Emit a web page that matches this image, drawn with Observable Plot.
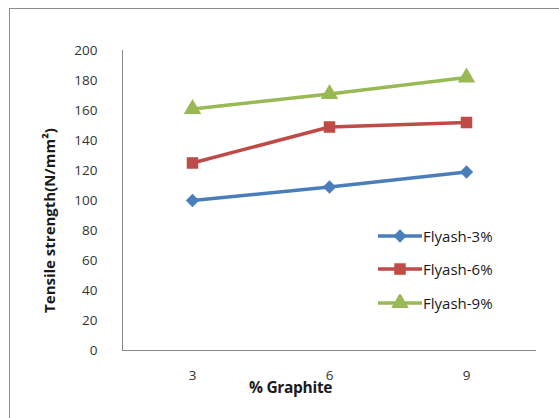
<!DOCTYPE html>
<html>
<head>
<meta charset="utf-8">
<script src="https://cdn.jsdelivr.net/npm/d3@7"></script>
<script src="https://cdn.jsdelivr.net/npm/@observablehq/plot@0.6"></script>
<style>
  html, body { margin: 0; padding: 0; background: #fff; }
  #wrap { position: relative; width: 559px; height: 418px; overflow: hidden; font-family: "Open Sans", Lato, sans-serif; }
  #border { position: absolute; left: 9px; top: 8px; right: -4px; bottom: -4px;
            border-left: 1px solid #8c8c8c; border-top: 1px solid #8c8c8c; }
  #chart { position: absolute; left: 0; top: 0; }
  #legend { position: absolute; left: 378px; top: 219px; }
  .row { display: flex; align-items: center; height: 33.5px; font-size: 15px; color: #1a1a1a; }
  .row svg { margin-right: 1px; }
  #xtitle { position: absolute; left: 249px; top: 376px; font-size: 15.5px; font-weight: bold; color: #1a1a1a; letter-spacing: -0.3px; }
</style>
</head>
<body>
<div id="wrap">
  <div id="border"></div>
  <div id="chart"></div>
  <div id="legend"></div>
  <div id="xtitle"></div>
</div>
<script>
// % graphite on the x axis
const graphite = [3, 6, 9];
// one series per flyash content
const seriesNames = ["Flyash-3%", "Flyash-6%", "Flyash-9%"];
const flyash3 = [100, 109, 119];
const flyash6 = [125, 149, 152];
const flyash9 = [161, 171, 182];
const yTicks = [0, 20, 40, 60, 80, 100, 120, 140, 160, 180, 200];
const xTitle = "% Graphite";
const yTitle = "Tensile strength(N/mm²)";

const colors = ["#4a7ebb", "#be4b48", "#98b954"];
const symbols = ["diamond2", "square", "triangle"];
const radii = [6, 6.5, 6.5];

const values = [flyash3, flyash6, flyash9];
const rows = seriesNames.flatMap((s, i) =>
  graphite.map((g, j) => ({series: s, graphite: g, strength: values[i][j]}))
);

const chart = Plot.plot({
  width: 559,
  height: 418,
  marginLeft: 122,
  marginRight: 24,
  marginTop: 50,
  marginBottom: 68,
  style: {fontFamily: "'Open Sans', Lato, sans-serif", fontSize: "13.5px", color: "#333"},
  x: {type: "point", domain: graphite, padding: 0.5},
  y: {domain: [0, 200]},
  color: {domain: seriesNames, range: colors},
  symbol: {domain: seriesNames, range: symbols},
  r: {type: "identity"},
  marks: [
    Plot.axisY({ticks: yTicks, tickSize: 0, tickPadding: 25, label: null, fill: "#333"}),
    Plot.axisX({tickSize: 0, tickPadding: 20, label: null, fill: "#333"}),
    Plot.text([yTitle], {
      frameAnchor: "left", textAnchor: "middle", rotate: -90, dx: -72, dy: 20,
      fontWeight: "bold", fontSize: 15, fill: "#1a1a1a"
    }),
    Plot.frame({anchor: "left", stroke: "#868686", strokeOpacity: 1}),
    Plot.frame({anchor: "bottom", stroke: "#868686", strokeOpacity: 1}),
    Plot.line(rows, {x: "graphite", y: "strength", z: "series", stroke: "series", strokeWidth: 3.5}),
    Plot.dot(rows, {
      x: "graphite", y: "strength", symbol: "series", fill: "series",
      r: d => radii[seriesNames.indexOf(d.series)]
    })
  ]
});
document.getElementById("chart").appendChild(chart);

// legend: line with marker, then series name
const legend = d3.select("#legend");
seriesNames.forEach((s, i) => {
  const row = legend.append("div").attr("class", "row");
  const svg = row.append("svg").attr("width", 44).attr("height", 18);
  svg.append("line").attr("x1", 0).attr("x2", 44).attr("y1", 9).attr("y2", 9)
    .attr("stroke", colors[i]).attr("stroke-width", 3.5);
  const sym = {diamond2: d3.symbolDiamond2, square: d3.symbolSquare, triangle: d3.symbolTriangle}[symbols[i]];
  svg.append("path").attr("transform", "translate(22,9)")
    .attr("d", d3.symbol(sym, Math.PI * radii[i] * radii[i])())
    .attr("fill", colors[i]);
  row.append("span").text(s);
});
document.getElementById("xtitle").textContent = xTitle;
</script>
</body>
</html>
